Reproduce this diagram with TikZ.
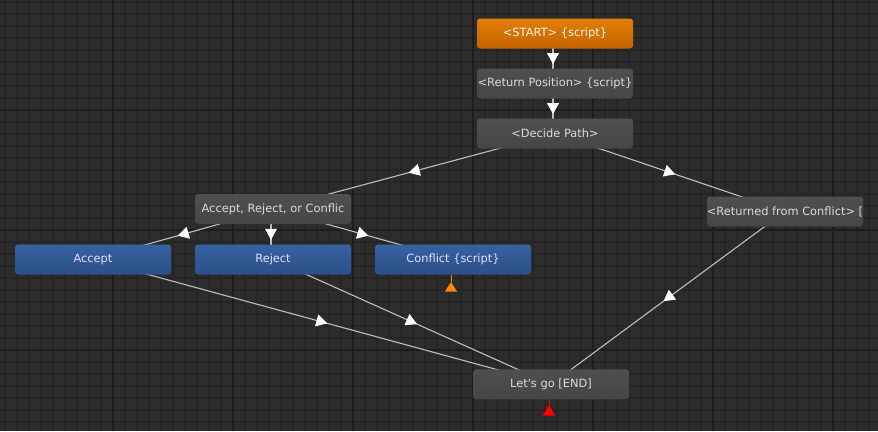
\documentclass[tikz,border=0pt]{standalone}
\usepackage{fontspec}
\newfontfamily\unityfont{DejaVu Sans}
\usetikzlibrary{arrows.meta,decorations.markings,backgrounds}
\definecolor{bgc}{HTML}{2C2C2C}
\definecolor{minorc}{HTML}{262626}
\definecolor{majorc}{HTML}{1D1D1D}
\definecolor{ngtop}{HTML}{4F4F4F}
\definecolor{ngbot}{HTML}{464646}
\definecolor{nbtop}{HTML}{3562A1}
\definecolor{nbbot}{HTML}{2C4F88}
\definecolor{notop}{HTML}{E27E06}
\definecolor{nobot}{HTML}{C46400}
\definecolor{ntext}{HTML}{DADADA}
\definecolor{edgec}{HTML}{BEBEBE}
\definecolor{exitor}{HTML}{FF8A00}
\definecolor{exitred}{HTML}{FF0000}
\tikzset{
  basenode/.style={rectangle, rounded corners=3pt, minimum width=156pt, minimum height=30pt,
    inner sep=0pt, text=ntext, font=\unityfont\fontsize{11.4}{13}\selectfont},
  graynode/.style={basenode, top color=ngtop, bottom color=ngbot},
  bluenode/.style={basenode, top color=nbtop, bottom color=nbbot, text=white!88!blue},
  orangenode/.style={basenode, top color=notop, bottom color=nobot, text=white!92!orange},
  trans/.style={draw=edgec, line width=1.1pt, postaction={decorate},
    decoration={markings, mark=at position 0.5 with
      {\arrow[xshift=5.5pt]{Triangle[width=12pt,length=11pt,color=white]}}}},
  minorline/.style={draw=minorc, line width=1.3pt},
  majorline/.style={draw=majorc, line width=2pt}
}
\begin{document}
\begin{tikzpicture}[x=1pt,y=-1pt]
\useasboundingbox (0,0) rectangle (878,431);
\begin{scope}[on background layer]
  \fill[bgc] (0,0) rectangle (878,431);
  \foreach \x in {5,17,...,877} \draw[minorline] (\x,0) -- (\x,431);
  \foreach \y in {2,14,...,430} \draw[minorline] (0,\y) -- (878,\y);
  \foreach \x in {113,233,...,833} \draw[majorline] (\x,0) -- (\x,431);
  \foreach \y in {110,230,350} \draw[majorline] (0,\y) -- (878,\y);
\end{scope}

\node[orangenode] (start) at (555,33.5) {<START> \{script\}};
\node[graynode] (ret) at (555,83.5) {<Return Position> \{script\}};
\node[graynode] (decide) at (555,133.5) {<Decide Path>};
\node[graynode] (arc) at (273,209) {Accept, Reject, or Conflic};
\node[bluenode] (accept) at (93,259.5) {Accept};
\node[bluenode] (reject) at (273,259.5) {Reject};
\node[bluenode] (conflict) at (453,259.5) {Conflict \{script\}};
\node[graynode] (returned) at (785,211.5) {<Returned from Conflict> [};
\node[graynode] (end) at (551,384.3) {Let's go [END]};

\coordinate (cexit) at (451,282);
\coordinate (eexit) at (549,405);
\draw[exitor, line width=1pt] (451,274.5) -- (cexit);
\fill[exitor] ([xshift=-6pt,yshift=-9.5pt]cexit) -- ([xshift=6pt,yshift=-9.5pt]cexit) -- (cexit) -- cycle;
\draw[exitred, line width=1pt] (549,399.3) -- (eexit);
\fill[exitred] ([xshift=-6pt,yshift=-10.5pt]eexit) -- ([xshift=6pt,yshift=-10.5pt]eexit) -- (eexit) -- cycle;

\begin{scope}[on background layer]
  \draw[trans] ([xshift=-2pt]start.center) -- ([xshift=-2pt]ret.center);
  \draw[trans] ([xshift=-2pt]ret.center) -- ([xshift=-2pt]decide.center);
  \draw[trans] (decide.center) -- (arc.center);
  \draw[trans] (decide.center) -- (returned.center);
  \draw[trans] (arc.center) -- (accept.center);
  \draw[trans] ([xshift=-2pt]arc.center) -- ([xshift=-2pt]reject.center);
  \draw[trans] (arc.center) -- (conflict.center);
  \draw[trans] (accept.center) -- (end.center);
  \draw[trans] (reject.center) -- (end.center);
  \draw[trans] (returned.center) -- (end.center);
\end{scope}
\end{tikzpicture}
\end{document}
